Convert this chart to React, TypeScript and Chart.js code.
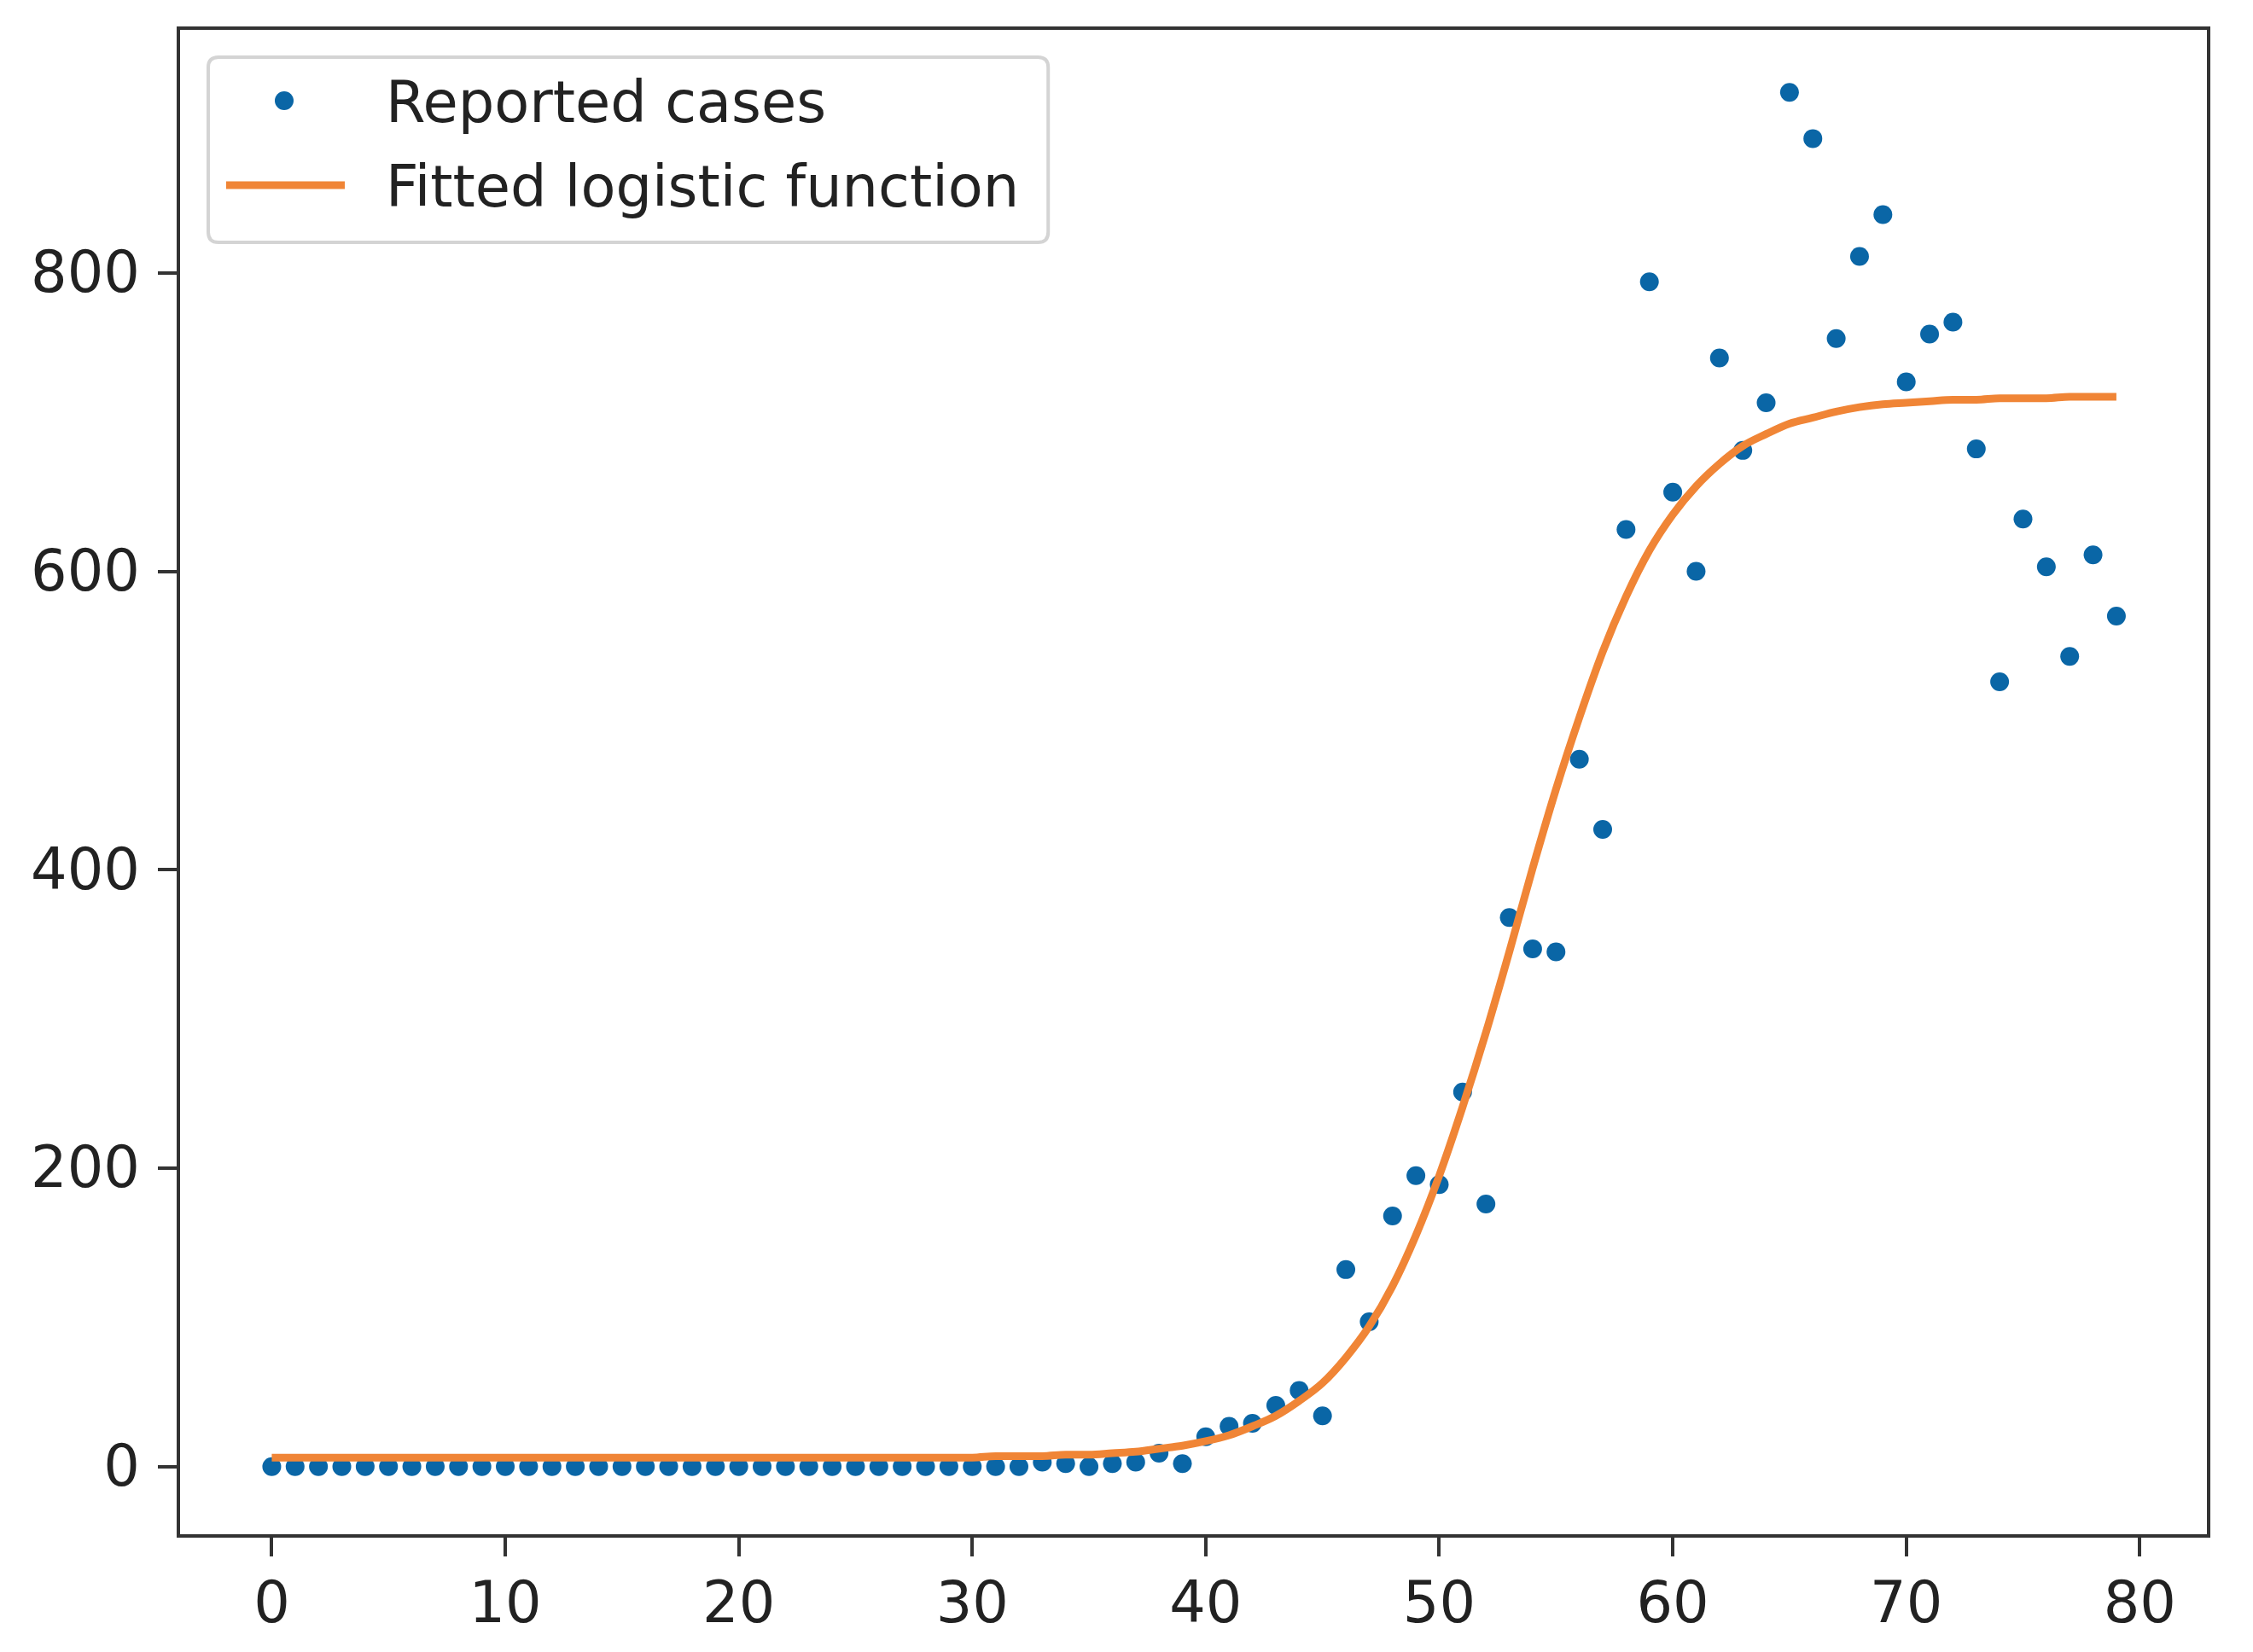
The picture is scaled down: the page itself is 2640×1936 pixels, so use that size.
import React, { useEffect, useRef } from "react";
import { Chart, registerables } from "chart.js";

Chart.register(...registerables);

// ---------- data ----------
const days = [
  0, 1, 2, 3, 4, 5, 6, 7, 8, 9,
  10, 11, 12, 13, 14, 15, 16, 17, 18, 19,
  20, 21, 22, 23, 24, 25, 26, 27, 28, 29,
  30, 31, 32, 33, 34, 35, 36, 37, 38, 39,
  40, 41, 42, 43, 44, 45, 46, 47, 48, 49,
  50, 51, 52, 53, 54, 55, 56, 57, 58, 59,
  60, 61, 62, 63, 64, 65, 66, 67, 68, 69,
  70, 71, 72, 73, 74, 75, 76, 77, 78, 79,
];

const reportedCases = [
  0, 0, 0, 0, 0, 0, 0, 0, 0, 0,
  0, 0, 0, 0, 0, 0, 0, 0, 0, 0,
  0, 0, 0, 0, 0, 0, 0, 0, 0, 0,
  0, 0, 0, 3, 2, 0, 2, 3, 9, 2,
  20, 27, 29, 41, 51, 34, 132, 97, 168, 195,
  189, 251, 176, 368, 347, 345, 474, 427, 628, 794,
  653, 600, 743, 681, 713, 921, 890, 756, 811, 839,
  727, 759, 767, 682, 526, 635, 603, 543, 611, 570,
];

const fittedLogistic = [
  6, 6, 6, 6, 6, 6, 6, 6, 6, 6,
  6, 6, 6, 6, 6, 6, 6, 6, 6, 6,
  6, 6, 6, 6, 6, 6, 6, 6, 6, 6,
  6, 7, 7, 7, 8, 8, 9, 10, 12, 14,
  17, 21, 27, 34, 44, 56, 73, 94, 121, 155,
  195, 241, 291, 345, 401, 454, 502, 546, 583, 614,
  638, 657, 672, 684, 692, 699, 703, 707, 710, 712,
  713, 714, 715, 715, 716, 716, 716, 717, 717, 717,
];

const seriesLabels = ["Reported cases", "Fitted logistic function"];
const xTickValues = [0, 10, 20, 30, 40, 50, 60, 70, 80];
const yTickValues = [0, 200, 400, 600, 800];
const xLimits = [-4.0, 82.95];
const yLimits = [-46.5, 964];

// ---------- styles ----------
const DOT_COLOR = "#0a66a6";
const LINE_COLOR = "#f08536";
const AXIS_COLOR = "#333333";
const TEXT_COLOR = "#222222";
const FONT_FAMILY = "'DejaVu Sans', sans-serif";
const FONT_SIZE = 67;

const frameAndLegend = {
  id: "frameAndLegend",
  afterDatasetsDraw(chart: any) {
    const { ctx, chartArea: a } = chart;
    ctx.save();

    // legend
    ctx.font = `${FONT_SIZE}px ${FONT_FAMILY}`;
    const boxLeft = a.left + 35;
    const boxTop = a.top + 34;
    const textX = boxLeft + 208;
    const widths = seriesLabels.map((t) => ctx.measureText(t).width);
    const boxW = textX + Math.max(...widths) + 34 - boxLeft;
    const boxH = 217;
    const r = 12;
    ctx.beginPath();
    ctx.moveTo(boxLeft + r, boxTop);
    ctx.lineTo(boxLeft + boxW - r, boxTop);
    ctx.quadraticCurveTo(boxLeft + boxW, boxTop, boxLeft + boxW, boxTop + r);
    ctx.lineTo(boxLeft + boxW, boxTop + boxH - r);
    ctx.quadraticCurveTo(boxLeft + boxW, boxTop + boxH, boxLeft + boxW - r, boxTop + boxH);
    ctx.lineTo(boxLeft + r, boxTop + boxH);
    ctx.quadraticCurveTo(boxLeft, boxTop + boxH, boxLeft, boxTop + boxH - r);
    ctx.lineTo(boxLeft, boxTop + r);
    ctx.quadraticCurveTo(boxLeft, boxTop, boxLeft + r, boxTop);
    ctx.closePath();
    ctx.fillStyle = "rgba(255,255,255,0.8)";
    ctx.fill();
    ctx.lineWidth = 4;
    ctx.strokeStyle = "#d4d4d4";
    ctx.stroke();

    const row1 = boxTop + 51;
    const row2 = boxTop + 150;
    // marker
    ctx.beginPath();
    ctx.arc(boxLeft + 89, row1, 11, 0, Math.PI * 2);
    ctx.fillStyle = DOT_COLOR;
    ctx.fill();
    // line sample
    ctx.beginPath();
    ctx.moveTo(boxLeft + 21, row2);
    ctx.lineTo(boxLeft + 160, row2);
    ctx.strokeStyle = LINE_COLOR;
    ctx.lineWidth = 9;
    ctx.stroke();
    // text
    ctx.fillStyle = TEXT_COLOR;
    ctx.textBaseline = "alphabetic";
    ctx.textAlign = "left";
    ctx.fillText(seriesLabels[0], textX, row1 + 25);
    ctx.fillText(seriesLabels[1], textX, row2 + 25);

    // spines
    ctx.strokeStyle = AXIS_COLOR;
    ctx.lineWidth = 4;
    ctx.strokeRect(a.left, a.top, a.right - a.left, a.bottom - a.top);
    ctx.restore();
  },
};

export default function App() {
  const canvasRef = useRef<HTMLCanvasElement | null>(null);

  useEffect(() => {
    if (!canvasRef.current) return;
    const scatterPoints = days.map((d, i) => ({ x: d, y: reportedCases[i] }));
    const linePoints = days.map((d, i) => ({ x: d, y: fittedLogistic[i] }));

    const chart = new Chart(canvasRef.current, {
      type: "scatter",
      data: {
        datasets: [
          {
            label: seriesLabels[0],
            data: scatterPoints,
            backgroundColor: DOT_COLOR,
            borderColor: DOT_COLOR,
            borderWidth: 0,
            pointRadius: 11,
            pointHoverRadius: 11,
            showLine: false,
            order: 2,
          },
          {
            label: seriesLabels[1],
            data: linePoints,
            borderColor: LINE_COLOR,
            backgroundColor: LINE_COLOR,
            borderWidth: 9,
            pointRadius: 0,
            pointHoverRadius: 0,
            showLine: true,
            cubicInterpolationMode: "monotone",
            fill: false,
            order: 1,
          },
        ],
      },
      plugins: [frameAndLegend],
      options: {
        animation: false,
        responsive: false,
        devicePixelRatio: 1,
        layout: { padding: { left: 0, top: 33, right: 52, bottom: 0 } },
        plugins: {
          legend: { display: false },
          tooltip: { enabled: false },
          title: { display: false },
        },
        events: [],
        scales: {
          x: {
            type: "linear",
            min: xLimits[0],
            max: xLimits[1],
            afterBuildTicks: (scale: any) => {
              scale.ticks = xTickValues.map((v) => ({ value: v }));
            },
            afterFit: (scale: any) => {
              scale.height = 136;
              scale.paddingLeft = 0;
              scale.paddingRight = 0;
            },
            grid: {
              drawOnChartArea: false,
              drawTicks: true,
              tickLength: 24,
              tickWidth: 4,
              color: AXIS_COLOR,
              lineWidth: 4,
            },
            border: { display: false },
            ticks: {
              color: TEXT_COLOR,
              font: { family: FONT_FAMILY, size: FONT_SIZE },
              padding: 19,
              maxRotation: 0,
              autoSkip: false,
            },
          },
          y: {
            type: "linear",
            min: yLimits[0],
            max: yLimits[1],
            afterBuildTicks: (scale: any) => {
              scale.ticks = yTickValues.map((v) => ({ value: v }));
            },
            afterFit: (scale: any) => {
              scale.width = 209;
              scale.paddingTop = 0;
              scale.paddingBottom = 0;
            },
            grid: {
              drawOnChartArea: false,
              drawTicks: true,
              tickLength: 24,
              tickWidth: 4,
              color: AXIS_COLOR,
              lineWidth: 4,
            },
            border: { display: false },
            ticks: {
              color: TEXT_COLOR,
              font: { family: FONT_FAMILY, size: FONT_SIZE },
              padding: 21,
              labelOffset: 5,
              autoSkip: false,
            },
          },
        },
      },
    });
    return () => chart.destroy();
  }, []);

  return (
    <div style={{ position: "fixed", left: 0, top: 0, width: 2640, height: 1936, background: "#ffffff" }}>
      <canvas ref={canvasRef} width={2640} height={1936} style={{ width: 2640, height: 1936, display: "block" }} />
    </div>
  );
}
